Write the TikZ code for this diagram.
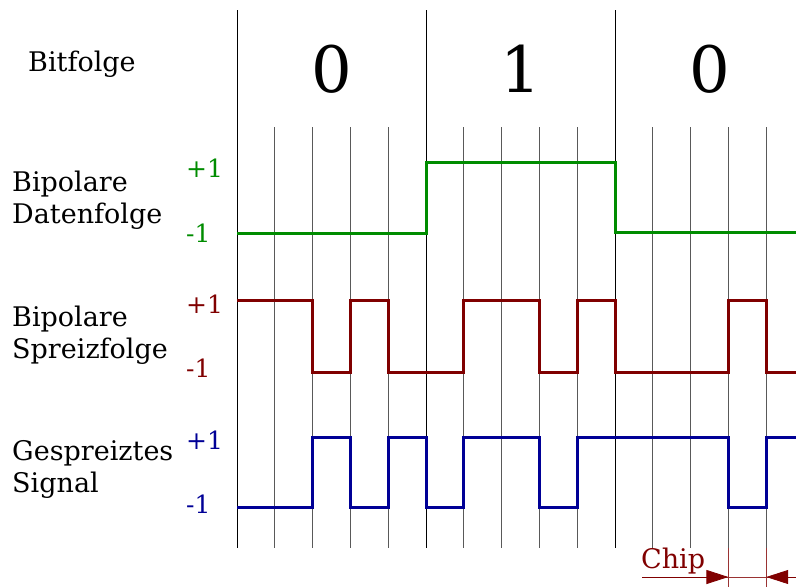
\documentclass[tikz,border=0pt]{standalone}
\usepackage{fontspec}
\setmainfont{DejaVu Serif}
\usetikzlibrary{arrows.meta}
\definecolor{datagreen}{RGB}{0,140,0}
\definecolor{spreadred}{RGB}{128,0,0}
\definecolor{signalblue}{RGB}{0,0,150}
\begin{document}
\begin{tikzpicture}[x=1pt,y=-1pt,
  bitline/.style={black,line width=1pt},
  chipgrid/.style={black!65,line width=1pt},
  wave/.style={line width=3pt,line join=miter},
  rowlabel/.style={anchor=north west,inner sep=0pt,align=left,font=\fontsize{27}{32}\selectfont},
  level/.style={anchor=base west,inner sep=0pt,font=\fontsize{25}{30}\selectfont},
  bitval/.style={anchor=base,inner sep=0pt,font=\fontsize{64}{70}\selectfont},
  chipmark/.style={spreadred!80,line width=0.8pt},
  chiptip/.style={-{Triangle[length=22pt,width=14pt]},spreadred}
]
\useasboundingbox (0,0) rectangle (796,587);

% chip grid (thin) and bit boundaries (full height)
\foreach \i in {1,2,3,4,6,7,8,9,11,12,13,14}
  \draw[chipgrid] ({237+37.8*\i},127) -- ({237+37.8*\i},548);
\foreach \i in {0,5,10}
  \draw[bitline] ({237+37.8*\i},10) -- ({237+37.8*\i},548);

% bit values
\node[rowlabel,anchor=base west] (bitlbl) at (28,71) {Bitfolge};
\node[bitval] (b0) at (331.5,92) {0};
\node[bitval] (b1) at (520.5,92) {1};
\node[bitval] (b2) at (709.5,92) {0};

% row labels
\node[rowlabel] (datalbl) at (12,171) {Bipolare\\Datenfolge};
\node[rowlabel] (spreadlbl) at (12,306) {Bipolare\\Spreizfolge};
\node[rowlabel] (siglbl) at (12,440) {Gespreiztes\\Signal};

% level marks
\node[level,text=datagreen] (dp) at (186,177) {+1};
\node[level,text=datagreen] (dm) at (186,242) {-1};
\node[level,text=spreadred] (sp) at (186,313) {+1};
\node[level,text=spreadred] (sm) at (186,377) {-1};
\node[level,text=signalblue] (gp) at (186,449) {+1};
\node[level,text=signalblue] (gm) at (186,513) {-1};

% bipolar data sequence
\draw[wave,datagreen] (237,233) -- (426,233) -- (426,162) -- (615,162)
  -- (615,232) -- (796,232);

% bipolar spreading sequence
\draw[wave,spreadred] (237,300) -- (312.6,300) -- (312.6,372) -- (350.4,372)
  -- (350.4,300) -- (388.2,300) -- (388.2,372) -- (463.8,372) -- (463.8,300)
  -- (539.4,300) -- (539.4,372) -- (577.2,372) -- (577.2,300) -- (615,300)
  -- (615,372) -- (728.4,372) -- (728.4,300) -- (766.2,300) -- (766.2,372)
  -- (796,372);

% spread signal
\draw[wave,signalblue] (237,507) -- (312.6,507) -- (312.6,437) -- (350.4,437)
  -- (350.4,507) -- (388.2,507) -- (388.2,437) -- (426,437) -- (426,507)
  -- (463.8,507) -- (463.8,437) -- (539.4,437) -- (539.4,507) -- (577.2,507)
  -- (577.2,437) -- (728.4,437) -- (728.4,507) -- (766.2,507) -- (766.2,437)
  -- (796,437);

% chip duration
\coordinate (cl) at (728.4,577);
\coordinate (cr) at (766.2,577);
\coordinate (cstart) at (642,577);
\coordinate (cend) at (796,577);
\node[anchor=base west,inner sep=0pt,text=spreadred,font=\fontsize{27}{32}\selectfont] (chiplbl) at (641,568) {Chip};
\draw[chipmark] (728.4,548) -- (728.4,587);
\draw[chipmark] (766.2,548) -- (766.2,587);
\draw[chipmark] (cstart) -- (cend);
\draw[chipmark,chiptip] (cstart) -- (cl);
\draw[chipmark,chiptip] (cend) -- (cr);
\end{tikzpicture}
\end{document}
